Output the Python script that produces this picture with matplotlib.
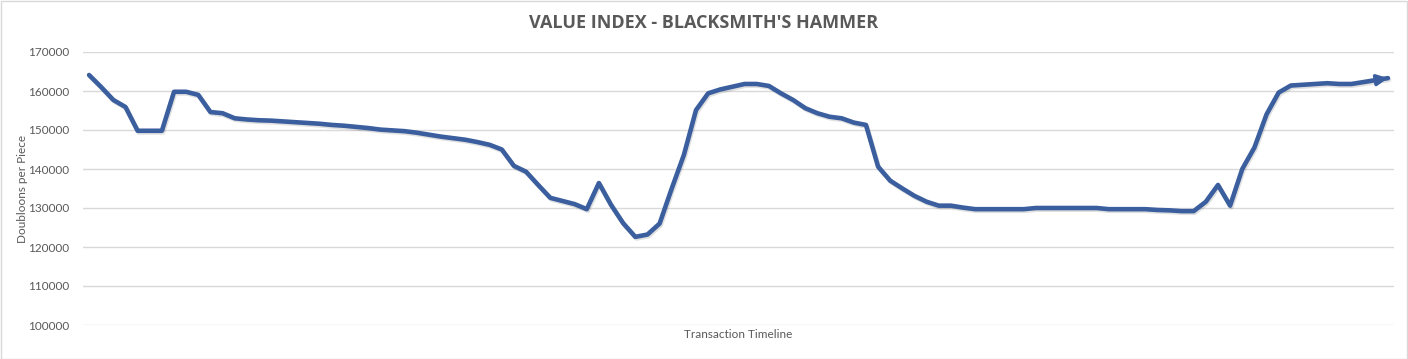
import numpy as np
import matplotlib
matplotlib.use('Agg')
import matplotlib.pyplot as plt
import matplotlib.patheffects as pe
from matplotlib.patches import Rectangle

# doubloons per piece, one value per transaction
values = [
    164100, 161000, 157700, 155900, 149800, 149800, 149800, 159800, 159800, 159000,
    154600, 154300, 153000, 152700, 152500, 152400, 152200, 152000, 151800, 151600,
    151300, 151100, 150800, 150500, 150100, 149900, 149700, 149300, 148800, 148300,
    147900, 147500, 146900, 146200, 145000, 140800, 139300, 135900, 132600, 131800,
    131000, 129700, 136400, 130800, 126100, 122600, 123200, 126000, 135000, 143600,
    155100, 159400, 160400, 161100, 161800, 161800, 161300, 159400, 157700, 155600,
    154300, 153400, 153000, 151900, 151300, 140600, 137000, 135000, 133100, 131600,
    130600, 130600, 130100, 129700, 129700, 129700, 129700, 129700, 130000, 130000,
    130000, 130000, 130000, 130000, 129700, 129700, 129700, 129700, 129500, 129400,
    129200, 129200, 131600, 135900, 130600, 140000, 145500, 154000, 159600, 161400,
    161600, 161800, 162000, 161800, 161800, 162300, 162800, 163300,
]
yticks = [100000, 110000, 120000, 130000, 140000, 150000, 160000, 170000]

title = "VALUE INDEX - BLACKSMITH'S HAMMER"
xlabel = "Transaction Timeline"
ylabel = "Doubloons per Piece"

line_color = '#3A5E9E'
text_color = '#595959'
grid_color = '#D9D9D9'

fig = plt.figure(figsize=(14.08, 3.59), dpi=100)
ax = fig.add_axes([83 / 1408, 1 - 325 / 359, (1394 - 83) / 1408, (325 - 52) / 359])

x = np.arange(len(values))
ax.plot(x, values, color=line_color, lw=3.3, solid_joinstyle='round', solid_capstyle='round',
        path_effects=[pe.SimpleLineShadow(offset=(0.8, -1.2), shadow_color='black', alpha=0.12),
                      pe.Normal()])
# arrow head at the end of the line
ax.annotate('', xy=(x[-1], values[-1]), xytext=(x[-2], values[-2]),
            arrowprops=dict(arrowstyle='-|>', color=line_color, lw=2.5,
                            mutation_scale=16, shrinkA=0, shrinkB=0))

ax.set_xlim(-0.5, len(values) - 0.5)
ax.set_ylim(100000, 170000)
ax.set_yticks(yticks)
ax.set_xticks([])
ax.grid(axis='y', color=grid_color, lw=1)
ax.set_axisbelow(True)
for s in ax.spines.values():
    s.set_visible(False)
ax.tick_params(axis='y', length=0, pad=10, labelsize=8.5, labelcolor=text_color)
for lab in ax.get_yticklabels():
    lab.set_fontfamily('Lato')

ax.set_xlabel(xlabel, fontsize=8.5, color=text_color, family='Lato', labelpad=3)
ax.set_ylabel(ylabel, fontsize=8.5, color=text_color, family='Lato')
ax.yaxis.set_label_coords(-0.042, 0.5)

fig.text(0.5, 1 - 22.5 / 359, title, ha='center', va='center', fontsize=13,
         fontweight='bold', color=text_color, family='Open Sans')

fig.patches.append(Rectangle((0.5 / 1408, 0.5 / 359), 1 - 1.5 / 1408, 1 - 1.5 / 359,
                             transform=fig.transFigure, fill=False,
                             edgecolor=grid_color, lw=1))

fig.savefig('out.png', dpi=100)
